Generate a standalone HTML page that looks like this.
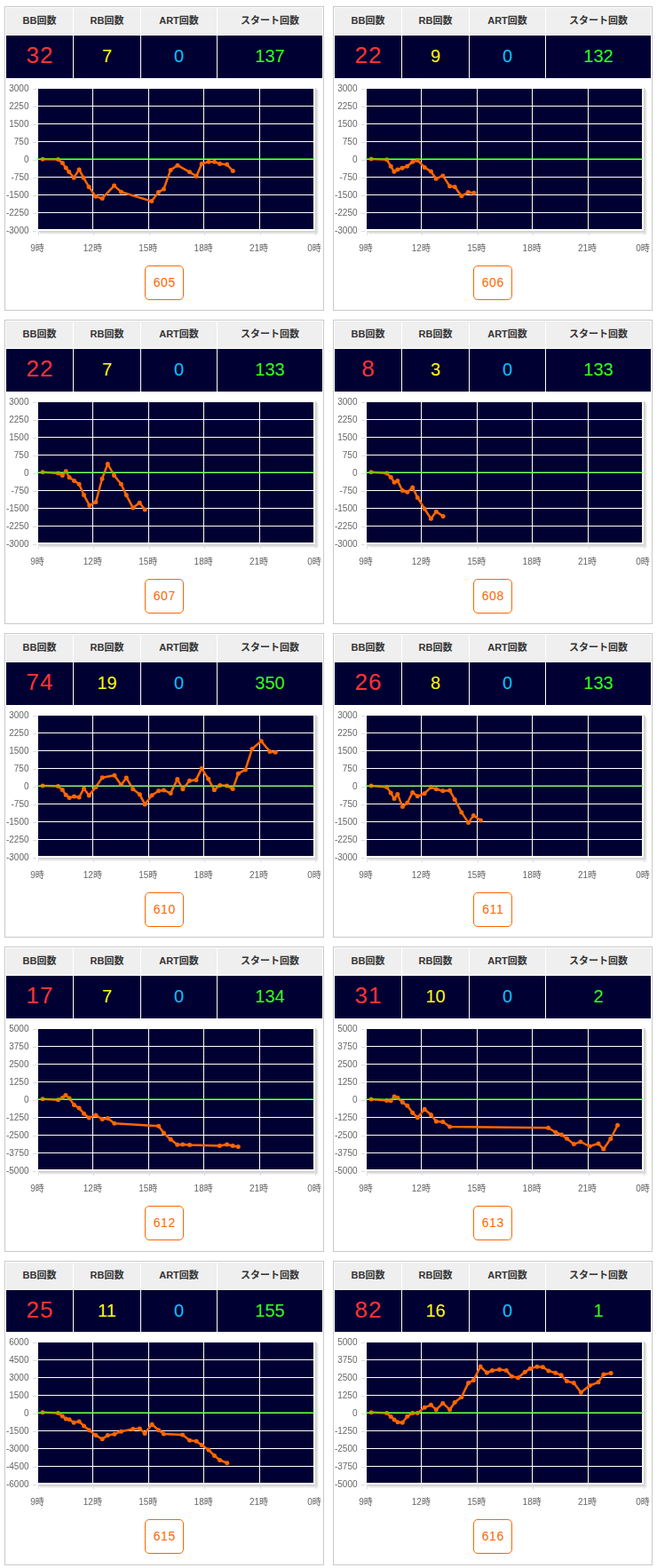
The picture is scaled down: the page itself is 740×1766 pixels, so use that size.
<!DOCTYPE html>
<html lang="ja"><head><meta charset="utf-8"><title>data</title>
<style>
html,body{margin:0;padding:0;background:#fff;}
body{width:740px;height:1766px;position:relative;overflow:hidden;font-family:"Liberation Sans","Noto Sans CJK JP",sans-serif;}
.card{position:absolute;width:360px;height:343px;box-sizing:border-box;border:1px solid #c9c9c9;background:#fff;}
.st{position:absolute;left:0;top:0;width:358px;border-collapse:separate;border-spacing:1px;table-layout:fixed;margin:0;}
.st th,.st td{padding:0;text-align:center;vertical-align:top;white-space:nowrap;overflow:hidden;}
.st th{height:30px;background:#efefef;color:#333;font-size:11px;font-weight:bold;line-height:29px;font-family:"Liberation Sans","Noto Sans CJK JP",sans-serif;}
.st td{height:48px;background:#000033;font-size:20px;line-height:46px;}
.st td.bb{font-size:26px;line-height:44px;color:#ff3333;letter-spacing:1px;padding-left:1px;}
.st td.rb{color:#ffff0a;}
.st td.art{color:#08c4ff;}
.st td.stt{color:#33ff14;}
.chart{position:absolute;left:0;top:0;width:358px;height:341px;will-change:transform;}
.chart text{font-family:"Liberation Sans","Noto Sans CJK JP",sans-serif;font-size:10px;fill:#666;}
.last .st td{height:47px;}
.last .chart{top:-1px;}
.last .btn{top:290px;}
.btn{position:absolute;left:157px;top:291px;width:44px;height:39px;box-sizing:border-box;border:1px solid #ff6600;border-radius:5px;color:#ff6600;font-size:14px;letter-spacing:.6px;text-indent:.6px;line-height:36px;text-align:center;text-decoration:none;background:#fff;}
</style></head><body>
<div class="card" style="left:5px;top:7px">
<table class="st"><colgroup><col style="width:75px"><col style="width:75px"><col style="width:85px"><col style="width:118px"></colgroup>
<tr><th>BB回数</th><th>RB回数</th><th>ART回数</th><th>スタート回数</th></tr>
<tr><td class="bb">32</td><td class="rb">7</td><td class="art">0</td><td class="stt">137</td></tr></table>
<svg class="chart" width="358" height="341" viewBox="0 0 358 341"><rect x="349" y="91" width="1" height="162" fill="#d0d0d0"/><rect x="37" y="252" width="313" height="1" fill="#d0d0d0"/><rect x="350" y="92" width="1" height="162" fill="#dadada"/><rect x="38" y="253" width="313" height="1" fill="#dadada"/><rect x="351" y="93" width="1" height="162" fill="#e6e6e6"/><rect x="39" y="254" width="313" height="1" fill="#e6e6e6"/><rect x="352" y="94" width="1" height="162" fill="#f4f4f4"/><rect x="40" y="255" width="313" height="1" fill="#f4f4f4"/><rect x="37" y="92" width="310" height="158" fill="#000033"/><rect x="37" y="111" width="310" height="1" fill="#fff"/><rect x="37" y="131" width="310" height="1" fill="#fff"/><rect x="37" y="151" width="310" height="1" fill="#fff"/><rect x="37" y="171" width="310" height="1" fill="#fff"/><rect x="37" y="191" width="310" height="1" fill="#fff"/><rect x="37" y="211" width="310" height="1" fill="#fff"/><rect x="37" y="231" width="310" height="1" fill="#fff"/><rect x="98" y="92" width="1" height="158" fill="#fff"/><rect x="161" y="92" width="1" height="158" fill="#fff"/><rect x="223" y="92" width="1" height="158" fill="#fff"/><rect x="286" y="92" width="1" height="158" fill="#fff"/><rect x="31" y="92" width="4" height="1" fill="#dcdcdc"/><rect x="31" y="112" width="4" height="1" fill="#dcdcdc"/><rect x="31" y="132" width="4" height="1" fill="#dcdcdc"/><rect x="31" y="152" width="4" height="1" fill="#dcdcdc"/><rect x="31" y="172" width="4" height="1" fill="#dcdcdc"/><rect x="31" y="192" width="4" height="1" fill="#dcdcdc"/><rect x="31" y="212" width="4" height="1" fill="#dcdcdc"/><rect x="31" y="232" width="4" height="1" fill="#dcdcdc"/><rect x="31" y="252" width="4" height="1" fill="#dcdcdc"/><rect x="37" y="252" width="1" height="5" fill="#dcdcdc"/><rect x="99" y="252" width="1" height="5" fill="#dcdcdc"/><rect x="162" y="252" width="1" height="5" fill="#dcdcdc"/><rect x="224" y="252" width="1" height="5" fill="#dcdcdc"/><rect x="287" y="252" width="1" height="5" fill="#dcdcdc"/><rect x="349" y="252" width="1" height="5" fill="#dcdcdc"/><text x="26.5" y="95.1" text-anchor="end">3000</text><text x="26.5" y="115.1" text-anchor="end">2250</text><text x="26.5" y="135.1" text-anchor="end">1500</text><text x="26.5" y="155.1" text-anchor="end">750</text><text x="26.5" y="175.1" text-anchor="end">0</text><text x="26.5" y="195.1" text-anchor="end">-750</text><text x="26.5" y="215.1" text-anchor="end">-1500</text><text x="26.5" y="235.1" text-anchor="end">-2250</text><text x="26.5" y="255.1" text-anchor="end">-3000</text><text x="28.2" y="275.2">9時</text><text x="87.8" y="275.2">12時</text><text x="150.2" y="275.2">15時</text><text x="212.6" y="275.2">18時</text><text x="275" y="275.2">21時</text><text x="340.2" y="275.2">0時</text><polyline fill="none" stroke="#ff6600" stroke-width="2.5" stroke-linejoin="round" stroke-linecap="round" points="42,171.3 59.5,171.6 64.3,175.4 68.2,181.1 71.7,185.4 77.2,192.2 83.1,182.9 88.1,192.2 94.1,202.4 101.7,213.2 109.2,215.4 122.6,201.1 130.6,208.2 164.8,218.6 172.4,208.4 178.4,205 186.2,183.4 194,178.2 207.6,185.8 215.2,190.5 221.2,176.5 229,174.3 235.5,174.3 241.6,176.5 249.6,177.3 256.3,184.5"/><g fill="#ff6600"><circle cx="42" cy="171.3" r="2.5"/><circle cx="59.5" cy="171.6" r="2.5"/><circle cx="64.3" cy="175.4" r="2.5"/><circle cx="68.2" cy="181.1" r="2.5"/><circle cx="71.7" cy="185.4" r="2.5"/><circle cx="77.2" cy="192.2" r="2.5"/><circle cx="83.1" cy="182.9" r="2.5"/><circle cx="88.1" cy="192.2" r="2.5"/><circle cx="94.1" cy="202.4" r="2.5"/><circle cx="101.7" cy="213.2" r="2.5"/><circle cx="109.2" cy="215.4" r="2.5"/><circle cx="122.6" cy="201.1" r="2.5"/><circle cx="130.6" cy="208.2" r="2.5"/><circle cx="164.8" cy="218.6" r="2.5"/><circle cx="172.4" cy="208.4" r="2.5"/><circle cx="178.4" cy="205" r="2.5"/><circle cx="186.2" cy="183.4" r="2.5"/><circle cx="194" cy="178.2" r="2.5"/><circle cx="207.6" cy="185.8" r="2.5"/><circle cx="215.2" cy="190.5" r="2.5"/><circle cx="221.2" cy="176.5" r="2.5"/><circle cx="229" cy="174.3" r="2.5"/><circle cx="235.5" cy="174.3" r="2.5"/><circle cx="241.6" cy="176.5" r="2.5"/><circle cx="249.6" cy="177.3" r="2.5"/><circle cx="256.3" cy="184.5" r="2.5"/></g><rect x="36" y="170" width="312" height="2" fill="#33ff00" opacity="0.55"/></svg>
<a class="btn">605</a>
</div>
<div class="card" style="left:375px;top:7px">
<table class="st"><colgroup><col style="width:75px"><col style="width:75px"><col style="width:85px"><col style="width:118px"></colgroup>
<tr><th>BB回数</th><th>RB回数</th><th>ART回数</th><th>スタート回数</th></tr>
<tr><td class="bb">22</td><td class="rb">9</td><td class="art">0</td><td class="stt">132</td></tr></table>
<svg class="chart" width="358" height="341" viewBox="0 0 358 341"><rect x="349" y="91" width="1" height="162" fill="#d0d0d0"/><rect x="37" y="252" width="313" height="1" fill="#d0d0d0"/><rect x="350" y="92" width="1" height="162" fill="#dadada"/><rect x="38" y="253" width="313" height="1" fill="#dadada"/><rect x="351" y="93" width="1" height="162" fill="#e6e6e6"/><rect x="39" y="254" width="313" height="1" fill="#e6e6e6"/><rect x="352" y="94" width="1" height="162" fill="#f4f4f4"/><rect x="40" y="255" width="313" height="1" fill="#f4f4f4"/><rect x="37" y="92" width="310" height="158" fill="#000033"/><rect x="37" y="111" width="310" height="1" fill="#fff"/><rect x="37" y="131" width="310" height="1" fill="#fff"/><rect x="37" y="151" width="310" height="1" fill="#fff"/><rect x="37" y="171" width="310" height="1" fill="#fff"/><rect x="37" y="191" width="310" height="1" fill="#fff"/><rect x="37" y="211" width="310" height="1" fill="#fff"/><rect x="37" y="231" width="310" height="1" fill="#fff"/><rect x="98" y="92" width="1" height="158" fill="#fff"/><rect x="161" y="92" width="1" height="158" fill="#fff"/><rect x="223" y="92" width="1" height="158" fill="#fff"/><rect x="286" y="92" width="1" height="158" fill="#fff"/><rect x="31" y="92" width="4" height="1" fill="#dcdcdc"/><rect x="31" y="112" width="4" height="1" fill="#dcdcdc"/><rect x="31" y="132" width="4" height="1" fill="#dcdcdc"/><rect x="31" y="152" width="4" height="1" fill="#dcdcdc"/><rect x="31" y="172" width="4" height="1" fill="#dcdcdc"/><rect x="31" y="192" width="4" height="1" fill="#dcdcdc"/><rect x="31" y="212" width="4" height="1" fill="#dcdcdc"/><rect x="31" y="232" width="4" height="1" fill="#dcdcdc"/><rect x="31" y="252" width="4" height="1" fill="#dcdcdc"/><rect x="37" y="252" width="1" height="5" fill="#dcdcdc"/><rect x="99" y="252" width="1" height="5" fill="#dcdcdc"/><rect x="162" y="252" width="1" height="5" fill="#dcdcdc"/><rect x="224" y="252" width="1" height="5" fill="#dcdcdc"/><rect x="287" y="252" width="1" height="5" fill="#dcdcdc"/><rect x="349" y="252" width="1" height="5" fill="#dcdcdc"/><text x="26.5" y="95.1" text-anchor="end">3000</text><text x="26.5" y="115.1" text-anchor="end">2250</text><text x="26.5" y="135.1" text-anchor="end">1500</text><text x="26.5" y="155.1" text-anchor="end">750</text><text x="26.5" y="175.1" text-anchor="end">0</text><text x="26.5" y="195.1" text-anchor="end">-750</text><text x="26.5" y="215.1" text-anchor="end">-1500</text><text x="26.5" y="235.1" text-anchor="end">-2250</text><text x="26.5" y="255.1" text-anchor="end">-3000</text><text x="28.2" y="275.2">9時</text><text x="87.8" y="275.2">12時</text><text x="150.2" y="275.2">15時</text><text x="212.6" y="275.2">18時</text><text x="275" y="275.2">21時</text><text x="340.2" y="275.2">0時</text><polyline fill="none" stroke="#ff6600" stroke-width="2.5" stroke-linejoin="round" stroke-linecap="round" points="42,171.1 59.7,171.7 64.2,179.3 67.9,185.3 71.8,182.9 77,181.2 82.6,179.3 88.7,174.3 94.3,172.6 102.1,180.4 109.4,185.1 115.1,193.3 122.8,189.9 130.6,201.8 136.2,202.4 143.8,212.8 151.4,208.5 157.9,209.3"/><g fill="#ff6600"><circle cx="42" cy="171.1" r="2.5"/><circle cx="59.7" cy="171.7" r="2.5"/><circle cx="64.2" cy="179.3" r="2.5"/><circle cx="67.9" cy="185.3" r="2.5"/><circle cx="71.8" cy="182.9" r="2.5"/><circle cx="77" cy="181.2" r="2.5"/><circle cx="82.6" cy="179.3" r="2.5"/><circle cx="88.7" cy="174.3" r="2.5"/><circle cx="94.3" cy="172.6" r="2.5"/><circle cx="102.1" cy="180.4" r="2.5"/><circle cx="109.4" cy="185.1" r="2.5"/><circle cx="115.1" cy="193.3" r="2.5"/><circle cx="122.8" cy="189.9" r="2.5"/><circle cx="130.6" cy="201.8" r="2.5"/><circle cx="136.2" cy="202.4" r="2.5"/><circle cx="143.8" cy="212.8" r="2.5"/><circle cx="151.4" cy="208.5" r="2.5"/><circle cx="157.9" cy="209.3" r="2.5"/></g><rect x="36" y="170" width="312" height="2" fill="#33ff00" opacity="0.55"/></svg>
<a class="btn">606</a>
</div>
<div class="card" style="left:5px;top:360px">
<table class="st"><colgroup><col style="width:75px"><col style="width:75px"><col style="width:85px"><col style="width:118px"></colgroup>
<tr><th>BB回数</th><th>RB回数</th><th>ART回数</th><th>スタート回数</th></tr>
<tr><td class="bb">22</td><td class="rb">7</td><td class="art">0</td><td class="stt">133</td></tr></table>
<svg class="chart" width="358" height="341" viewBox="0 0 358 341"><rect x="349" y="91" width="1" height="162" fill="#d0d0d0"/><rect x="37" y="252" width="313" height="1" fill="#d0d0d0"/><rect x="350" y="92" width="1" height="162" fill="#dadada"/><rect x="38" y="253" width="313" height="1" fill="#dadada"/><rect x="351" y="93" width="1" height="162" fill="#e6e6e6"/><rect x="39" y="254" width="313" height="1" fill="#e6e6e6"/><rect x="352" y="94" width="1" height="162" fill="#f4f4f4"/><rect x="40" y="255" width="313" height="1" fill="#f4f4f4"/><rect x="37" y="92" width="310" height="158" fill="#000033"/><rect x="37" y="111" width="310" height="1" fill="#fff"/><rect x="37" y="131" width="310" height="1" fill="#fff"/><rect x="37" y="151" width="310" height="1" fill="#fff"/><rect x="37" y="171" width="310" height="1" fill="#fff"/><rect x="37" y="191" width="310" height="1" fill="#fff"/><rect x="37" y="211" width="310" height="1" fill="#fff"/><rect x="37" y="231" width="310" height="1" fill="#fff"/><rect x="98" y="92" width="1" height="158" fill="#fff"/><rect x="161" y="92" width="1" height="158" fill="#fff"/><rect x="223" y="92" width="1" height="158" fill="#fff"/><rect x="286" y="92" width="1" height="158" fill="#fff"/><rect x="31" y="92" width="4" height="1" fill="#dcdcdc"/><rect x="31" y="112" width="4" height="1" fill="#dcdcdc"/><rect x="31" y="132" width="4" height="1" fill="#dcdcdc"/><rect x="31" y="152" width="4" height="1" fill="#dcdcdc"/><rect x="31" y="172" width="4" height="1" fill="#dcdcdc"/><rect x="31" y="192" width="4" height="1" fill="#dcdcdc"/><rect x="31" y="212" width="4" height="1" fill="#dcdcdc"/><rect x="31" y="232" width="4" height="1" fill="#dcdcdc"/><rect x="31" y="252" width="4" height="1" fill="#dcdcdc"/><rect x="37" y="252" width="1" height="5" fill="#dcdcdc"/><rect x="99" y="252" width="1" height="5" fill="#dcdcdc"/><rect x="162" y="252" width="1" height="5" fill="#dcdcdc"/><rect x="224" y="252" width="1" height="5" fill="#dcdcdc"/><rect x="287" y="252" width="1" height="5" fill="#dcdcdc"/><rect x="349" y="252" width="1" height="5" fill="#dcdcdc"/><text x="26.5" y="95.1" text-anchor="end">3000</text><text x="26.5" y="115.1" text-anchor="end">2250</text><text x="26.5" y="135.1" text-anchor="end">1500</text><text x="26.5" y="155.1" text-anchor="end">750</text><text x="26.5" y="175.1" text-anchor="end">0</text><text x="26.5" y="195.1" text-anchor="end">-750</text><text x="26.5" y="215.1" text-anchor="end">-1500</text><text x="26.5" y="235.1" text-anchor="end">-2250</text><text x="26.5" y="255.1" text-anchor="end">-3000</text><text x="28.2" y="275.2">9時</text><text x="87.8" y="275.2">12時</text><text x="150.2" y="275.2">15時</text><text x="212.6" y="275.2">18時</text><text x="275" y="275.2">21時</text><text x="340.2" y="275.2">0時</text><polyline fill="none" stroke="#ff6600" stroke-width="2.5" stroke-linejoin="round" stroke-linecap="round" points="42,170.8 59.5,171.9 64.3,174.5 68.2,169.8 72.1,176.7 77.5,180.4 83.1,184.2 88.5,196.6 94.8,208.2 101.9,204.6 109,178.2 115.3,161.5 122.6,174.5 130.4,184.2 136.3,196.6 143.8,211.1 151.2,205.2 157.2,213"/><g fill="#ff6600"><circle cx="42" cy="170.8" r="2.5"/><circle cx="59.5" cy="171.9" r="2.5"/><circle cx="64.3" cy="174.5" r="2.5"/><circle cx="68.2" cy="169.8" r="2.5"/><circle cx="72.1" cy="176.7" r="2.5"/><circle cx="77.5" cy="180.4" r="2.5"/><circle cx="83.1" cy="184.2" r="2.5"/><circle cx="88.5" cy="196.6" r="2.5"/><circle cx="94.8" cy="208.2" r="2.5"/><circle cx="101.9" cy="204.6" r="2.5"/><circle cx="109" cy="178.2" r="2.5"/><circle cx="115.3" cy="161.5" r="2.5"/><circle cx="122.6" cy="174.5" r="2.5"/><circle cx="130.4" cy="184.2" r="2.5"/><circle cx="136.3" cy="196.6" r="2.5"/><circle cx="143.8" cy="211.1" r="2.5"/><circle cx="151.2" cy="205.2" r="2.5"/><circle cx="157.2" cy="213" r="2.5"/></g><rect x="36" y="170" width="312" height="2" fill="#33ff00" opacity="0.55"/></svg>
<a class="btn">607</a>
</div>
<div class="card" style="left:375px;top:360px">
<table class="st"><colgroup><col style="width:75px"><col style="width:75px"><col style="width:85px"><col style="width:118px"></colgroup>
<tr><th>BB回数</th><th>RB回数</th><th>ART回数</th><th>スタート回数</th></tr>
<tr><td class="bb">8</td><td class="rb">3</td><td class="art">0</td><td class="stt">133</td></tr></table>
<svg class="chart" width="358" height="341" viewBox="0 0 358 341"><rect x="349" y="91" width="1" height="162" fill="#d0d0d0"/><rect x="37" y="252" width="313" height="1" fill="#d0d0d0"/><rect x="350" y="92" width="1" height="162" fill="#dadada"/><rect x="38" y="253" width="313" height="1" fill="#dadada"/><rect x="351" y="93" width="1" height="162" fill="#e6e6e6"/><rect x="39" y="254" width="313" height="1" fill="#e6e6e6"/><rect x="352" y="94" width="1" height="162" fill="#f4f4f4"/><rect x="40" y="255" width="313" height="1" fill="#f4f4f4"/><rect x="37" y="92" width="310" height="158" fill="#000033"/><rect x="37" y="111" width="310" height="1" fill="#fff"/><rect x="37" y="131" width="310" height="1" fill="#fff"/><rect x="37" y="151" width="310" height="1" fill="#fff"/><rect x="37" y="171" width="310" height="1" fill="#fff"/><rect x="37" y="191" width="310" height="1" fill="#fff"/><rect x="37" y="211" width="310" height="1" fill="#fff"/><rect x="37" y="231" width="310" height="1" fill="#fff"/><rect x="98" y="92" width="1" height="158" fill="#fff"/><rect x="161" y="92" width="1" height="158" fill="#fff"/><rect x="223" y="92" width="1" height="158" fill="#fff"/><rect x="286" y="92" width="1" height="158" fill="#fff"/><rect x="31" y="92" width="4" height="1" fill="#dcdcdc"/><rect x="31" y="112" width="4" height="1" fill="#dcdcdc"/><rect x="31" y="132" width="4" height="1" fill="#dcdcdc"/><rect x="31" y="152" width="4" height="1" fill="#dcdcdc"/><rect x="31" y="172" width="4" height="1" fill="#dcdcdc"/><rect x="31" y="192" width="4" height="1" fill="#dcdcdc"/><rect x="31" y="212" width="4" height="1" fill="#dcdcdc"/><rect x="31" y="232" width="4" height="1" fill="#dcdcdc"/><rect x="31" y="252" width="4" height="1" fill="#dcdcdc"/><rect x="37" y="252" width="1" height="5" fill="#dcdcdc"/><rect x="99" y="252" width="1" height="5" fill="#dcdcdc"/><rect x="162" y="252" width="1" height="5" fill="#dcdcdc"/><rect x="224" y="252" width="1" height="5" fill="#dcdcdc"/><rect x="287" y="252" width="1" height="5" fill="#dcdcdc"/><rect x="349" y="252" width="1" height="5" fill="#dcdcdc"/><text x="26.5" y="95.1" text-anchor="end">3000</text><text x="26.5" y="115.1" text-anchor="end">2250</text><text x="26.5" y="135.1" text-anchor="end">1500</text><text x="26.5" y="155.1" text-anchor="end">750</text><text x="26.5" y="175.1" text-anchor="end">0</text><text x="26.5" y="195.1" text-anchor="end">-750</text><text x="26.5" y="215.1" text-anchor="end">-1500</text><text x="26.5" y="235.1" text-anchor="end">-2250</text><text x="26.5" y="255.1" text-anchor="end">-3000</text><text x="28.2" y="275.2">9時</text><text x="87.8" y="275.2">12時</text><text x="150.2" y="275.2">15時</text><text x="212.6" y="275.2">18時</text><text x="275" y="275.2">21時</text><text x="340.2" y="275.2">0時</text><polyline fill="none" stroke="#ff6600" stroke-width="2.5" stroke-linejoin="round" stroke-linecap="round" points="42,170.8 59.7,172.1 64.2,176.5 68.1,182.3 71.8,180.6 77.4,191.6 82.8,193.3 88.7,187.9 94.3,199.4 102.1,211.9 109.4,223.2 115.3,215.2 123.1,220.4"/><g fill="#ff6600"><circle cx="42" cy="170.8" r="2.5"/><circle cx="59.7" cy="172.1" r="2.5"/><circle cx="64.2" cy="176.5" r="2.5"/><circle cx="68.1" cy="182.3" r="2.5"/><circle cx="71.8" cy="180.6" r="2.5"/><circle cx="77.4" cy="191.6" r="2.5"/><circle cx="82.8" cy="193.3" r="2.5"/><circle cx="88.7" cy="187.9" r="2.5"/><circle cx="94.3" cy="199.4" r="2.5"/><circle cx="102.1" cy="211.9" r="2.5"/><circle cx="109.4" cy="223.2" r="2.5"/><circle cx="115.3" cy="215.2" r="2.5"/><circle cx="123.1" cy="220.4" r="2.5"/></g><rect x="36" y="170" width="312" height="2" fill="#33ff00" opacity="0.55"/></svg>
<a class="btn">608</a>
</div>
<div class="card" style="left:5px;top:713px">
<table class="st"><colgroup><col style="width:75px"><col style="width:75px"><col style="width:85px"><col style="width:118px"></colgroup>
<tr><th>BB回数</th><th>RB回数</th><th>ART回数</th><th>スタート回数</th></tr>
<tr><td class="bb">74</td><td class="rb">19</td><td class="art">0</td><td class="stt">350</td></tr></table>
<svg class="chart" width="358" height="341" viewBox="0 0 358 341"><rect x="349" y="91" width="1" height="162" fill="#d0d0d0"/><rect x="37" y="252" width="313" height="1" fill="#d0d0d0"/><rect x="350" y="92" width="1" height="162" fill="#dadada"/><rect x="38" y="253" width="313" height="1" fill="#dadada"/><rect x="351" y="93" width="1" height="162" fill="#e6e6e6"/><rect x="39" y="254" width="313" height="1" fill="#e6e6e6"/><rect x="352" y="94" width="1" height="162" fill="#f4f4f4"/><rect x="40" y="255" width="313" height="1" fill="#f4f4f4"/><rect x="37" y="92" width="310" height="158" fill="#000033"/><rect x="37" y="111" width="310" height="1" fill="#fff"/><rect x="37" y="131" width="310" height="1" fill="#fff"/><rect x="37" y="151" width="310" height="1" fill="#fff"/><rect x="37" y="171" width="310" height="1" fill="#fff"/><rect x="37" y="191" width="310" height="1" fill="#fff"/><rect x="37" y="211" width="310" height="1" fill="#fff"/><rect x="37" y="231" width="310" height="1" fill="#fff"/><rect x="98" y="92" width="1" height="158" fill="#fff"/><rect x="161" y="92" width="1" height="158" fill="#fff"/><rect x="223" y="92" width="1" height="158" fill="#fff"/><rect x="286" y="92" width="1" height="158" fill="#fff"/><rect x="31" y="92" width="4" height="1" fill="#dcdcdc"/><rect x="31" y="112" width="4" height="1" fill="#dcdcdc"/><rect x="31" y="132" width="4" height="1" fill="#dcdcdc"/><rect x="31" y="152" width="4" height="1" fill="#dcdcdc"/><rect x="31" y="172" width="4" height="1" fill="#dcdcdc"/><rect x="31" y="192" width="4" height="1" fill="#dcdcdc"/><rect x="31" y="212" width="4" height="1" fill="#dcdcdc"/><rect x="31" y="232" width="4" height="1" fill="#dcdcdc"/><rect x="31" y="252" width="4" height="1" fill="#dcdcdc"/><rect x="37" y="252" width="1" height="5" fill="#dcdcdc"/><rect x="99" y="252" width="1" height="5" fill="#dcdcdc"/><rect x="162" y="252" width="1" height="5" fill="#dcdcdc"/><rect x="224" y="252" width="1" height="5" fill="#dcdcdc"/><rect x="287" y="252" width="1" height="5" fill="#dcdcdc"/><rect x="349" y="252" width="1" height="5" fill="#dcdcdc"/><text x="26.5" y="95.1" text-anchor="end">3000</text><text x="26.5" y="115.1" text-anchor="end">2250</text><text x="26.5" y="135.1" text-anchor="end">1500</text><text x="26.5" y="155.1" text-anchor="end">750</text><text x="26.5" y="175.1" text-anchor="end">0</text><text x="26.5" y="195.1" text-anchor="end">-750</text><text x="26.5" y="215.1" text-anchor="end">-1500</text><text x="26.5" y="235.1" text-anchor="end">-2250</text><text x="26.5" y="255.1" text-anchor="end">-3000</text><text x="28.2" y="275.2">9時</text><text x="87.8" y="275.2">12時</text><text x="150.2" y="275.2">15時</text><text x="212.6" y="275.2">18時</text><text x="275" y="275.2">21時</text><text x="340.2" y="275.2">0時</text><polyline fill="none" stroke="#ff6600" stroke-width="2.5" stroke-linejoin="round" stroke-linecap="round" points="42,170.9 59.5,171.5 64.3,175.6 68.2,181.3 72.1,184.5 77.5,183 83.1,184.1 88.5,173.9 94.3,181.9 101.9,172.4 109.2,161.8 122.9,159.2 130.4,170 136.3,162 143.8,174.8 151.4,180.8 157.2,191.9 165,181.7 172.6,176.7 178.4,175.9 186.2,179.4 193.8,163.6 199.9,174.8 207.5,165.2 214.9,164.4 221.1,151.4 228.7,163.3 235.4,175.8 241.7,170.4 249.5,171.1 256.2,174.5 262.4,157.2 270.4,152.9 278,129.4 288.2,120.7 297.9,132.4 304.2,133.2"/><g fill="#ff6600"><circle cx="42" cy="170.9" r="2.5"/><circle cx="59.5" cy="171.5" r="2.5"/><circle cx="64.3" cy="175.6" r="2.5"/><circle cx="68.2" cy="181.3" r="2.5"/><circle cx="72.1" cy="184.5" r="2.5"/><circle cx="77.5" cy="183" r="2.5"/><circle cx="83.1" cy="184.1" r="2.5"/><circle cx="88.5" cy="173.9" r="2.5"/><circle cx="94.3" cy="181.9" r="2.5"/><circle cx="101.9" cy="172.4" r="2.5"/><circle cx="109.2" cy="161.8" r="2.5"/><circle cx="122.9" cy="159.2" r="2.5"/><circle cx="130.4" cy="170" r="2.5"/><circle cx="136.3" cy="162" r="2.5"/><circle cx="143.8" cy="174.8" r="2.5"/><circle cx="151.4" cy="180.8" r="2.5"/><circle cx="157.2" cy="191.9" r="2.5"/><circle cx="165" cy="181.7" r="2.5"/><circle cx="172.6" cy="176.7" r="2.5"/><circle cx="178.4" cy="175.9" r="2.5"/><circle cx="186.2" cy="179.4" r="2.5"/><circle cx="193.8" cy="163.6" r="2.5"/><circle cx="199.9" cy="174.8" r="2.5"/><circle cx="207.5" cy="165.2" r="2.5"/><circle cx="214.9" cy="164.4" r="2.5"/><circle cx="221.1" cy="151.4" r="2.5"/><circle cx="228.7" cy="163.3" r="2.5"/><circle cx="235.4" cy="175.8" r="2.5"/><circle cx="241.7" cy="170.4" r="2.5"/><circle cx="249.5" cy="171.1" r="2.5"/><circle cx="256.2" cy="174.5" r="2.5"/><circle cx="262.4" cy="157.2" r="2.5"/><circle cx="270.4" cy="152.9" r="2.5"/><circle cx="278" cy="129.4" r="2.5"/><circle cx="288.2" cy="120.7" r="2.5"/><circle cx="297.9" cy="132.4" r="2.5"/><circle cx="304.2" cy="133.2" r="2.5"/></g><rect x="36" y="170" width="312" height="2" fill="#33ff00" opacity="0.55"/></svg>
<a class="btn">610</a>
</div>
<div class="card" style="left:375px;top:713px">
<table class="st"><colgroup><col style="width:75px"><col style="width:75px"><col style="width:85px"><col style="width:118px"></colgroup>
<tr><th>BB回数</th><th>RB回数</th><th>ART回数</th><th>スタート回数</th></tr>
<tr><td class="bb">26</td><td class="rb">8</td><td class="art">0</td><td class="stt">133</td></tr></table>
<svg class="chart" width="358" height="341" viewBox="0 0 358 341"><rect x="349" y="91" width="1" height="162" fill="#d0d0d0"/><rect x="37" y="252" width="313" height="1" fill="#d0d0d0"/><rect x="350" y="92" width="1" height="162" fill="#dadada"/><rect x="38" y="253" width="313" height="1" fill="#dadada"/><rect x="351" y="93" width="1" height="162" fill="#e6e6e6"/><rect x="39" y="254" width="313" height="1" fill="#e6e6e6"/><rect x="352" y="94" width="1" height="162" fill="#f4f4f4"/><rect x="40" y="255" width="313" height="1" fill="#f4f4f4"/><rect x="37" y="92" width="310" height="158" fill="#000033"/><rect x="37" y="111" width="310" height="1" fill="#fff"/><rect x="37" y="131" width="310" height="1" fill="#fff"/><rect x="37" y="151" width="310" height="1" fill="#fff"/><rect x="37" y="171" width="310" height="1" fill="#fff"/><rect x="37" y="191" width="310" height="1" fill="#fff"/><rect x="37" y="211" width="310" height="1" fill="#fff"/><rect x="37" y="231" width="310" height="1" fill="#fff"/><rect x="98" y="92" width="1" height="158" fill="#fff"/><rect x="161" y="92" width="1" height="158" fill="#fff"/><rect x="223" y="92" width="1" height="158" fill="#fff"/><rect x="286" y="92" width="1" height="158" fill="#fff"/><rect x="31" y="92" width="4" height="1" fill="#dcdcdc"/><rect x="31" y="112" width="4" height="1" fill="#dcdcdc"/><rect x="31" y="132" width="4" height="1" fill="#dcdcdc"/><rect x="31" y="152" width="4" height="1" fill="#dcdcdc"/><rect x="31" y="172" width="4" height="1" fill="#dcdcdc"/><rect x="31" y="192" width="4" height="1" fill="#dcdcdc"/><rect x="31" y="212" width="4" height="1" fill="#dcdcdc"/><rect x="31" y="232" width="4" height="1" fill="#dcdcdc"/><rect x="31" y="252" width="4" height="1" fill="#dcdcdc"/><rect x="37" y="252" width="1" height="5" fill="#dcdcdc"/><rect x="99" y="252" width="1" height="5" fill="#dcdcdc"/><rect x="162" y="252" width="1" height="5" fill="#dcdcdc"/><rect x="224" y="252" width="1" height="5" fill="#dcdcdc"/><rect x="287" y="252" width="1" height="5" fill="#dcdcdc"/><rect x="349" y="252" width="1" height="5" fill="#dcdcdc"/><text x="26.5" y="95.1" text-anchor="end">3000</text><text x="26.5" y="115.1" text-anchor="end">2250</text><text x="26.5" y="135.1" text-anchor="end">1500</text><text x="26.5" y="155.1" text-anchor="end">750</text><text x="26.5" y="175.1" text-anchor="end">0</text><text x="26.5" y="195.1" text-anchor="end">-750</text><text x="26.5" y="215.1" text-anchor="end">-1500</text><text x="26.5" y="235.1" text-anchor="end">-2250</text><text x="26.5" y="255.1" text-anchor="end">-3000</text><text x="28.2" y="275.2">9時</text><text x="87.8" y="275.2">12時</text><text x="150.2" y="275.2">15時</text><text x="212.6" y="275.2">18時</text><text x="275" y="275.2">21時</text><text x="340.2" y="275.2">0時</text><polyline fill="none" stroke="#ff6600" stroke-width="2.5" stroke-linejoin="round" stroke-linecap="round" points="42,170.9 59.7,172.4 64.2,179.1 68.1,185.6 71.8,180.6 77.4,194.6 82.8,190.3 88.7,178.4 94.3,182.8 102.1,179.7 109.4,172.6 115.3,174.8 122.8,176.7 130.6,176.3 136.2,186.4 143.8,200.9 151.6,212.6 157.4,204.4 165.4,210"/><g fill="#ff6600"><circle cx="42" cy="170.9" r="2.5"/><circle cx="59.7" cy="172.4" r="2.5"/><circle cx="64.2" cy="179.1" r="2.5"/><circle cx="68.1" cy="185.6" r="2.5"/><circle cx="71.8" cy="180.6" r="2.5"/><circle cx="77.4" cy="194.6" r="2.5"/><circle cx="82.8" cy="190.3" r="2.5"/><circle cx="88.7" cy="178.4" r="2.5"/><circle cx="94.3" cy="182.8" r="2.5"/><circle cx="102.1" cy="179.7" r="2.5"/><circle cx="109.4" cy="172.6" r="2.5"/><circle cx="115.3" cy="174.8" r="2.5"/><circle cx="122.8" cy="176.7" r="2.5"/><circle cx="130.6" cy="176.3" r="2.5"/><circle cx="136.2" cy="186.4" r="2.5"/><circle cx="143.8" cy="200.9" r="2.5"/><circle cx="151.6" cy="212.6" r="2.5"/><circle cx="157.4" cy="204.4" r="2.5"/><circle cx="165.4" cy="210" r="2.5"/></g><rect x="36" y="170" width="312" height="2" fill="#33ff00" opacity="0.55"/></svg>
<a class="btn">611</a>
</div>
<div class="card" style="left:5px;top:1066px;height:344px">
<table class="st"><colgroup><col style="width:75px"><col style="width:75px"><col style="width:85px"><col style="width:118px"></colgroup>
<tr><th>BB回数</th><th>RB回数</th><th>ART回数</th><th>スタート回数</th></tr>
<tr><td class="bb">17</td><td class="rb">7</td><td class="art">0</td><td class="stt">134</td></tr></table>
<svg class="chart" width="358" height="341" viewBox="0 0 358 341"><rect x="349" y="91" width="1" height="162" fill="#d0d0d0"/><rect x="37" y="252" width="313" height="1" fill="#d0d0d0"/><rect x="350" y="92" width="1" height="162" fill="#dadada"/><rect x="38" y="253" width="313" height="1" fill="#dadada"/><rect x="351" y="93" width="1" height="162" fill="#e6e6e6"/><rect x="39" y="254" width="313" height="1" fill="#e6e6e6"/><rect x="352" y="94" width="1" height="162" fill="#f4f4f4"/><rect x="40" y="255" width="313" height="1" fill="#f4f4f4"/><rect x="37" y="92" width="310" height="158" fill="#000033"/><rect x="37" y="111" width="310" height="1" fill="#fff"/><rect x="37" y="131" width="310" height="1" fill="#fff"/><rect x="37" y="151" width="310" height="1" fill="#fff"/><rect x="37" y="171" width="310" height="1" fill="#fff"/><rect x="37" y="191" width="310" height="1" fill="#fff"/><rect x="37" y="211" width="310" height="1" fill="#fff"/><rect x="37" y="231" width="310" height="1" fill="#fff"/><rect x="98" y="92" width="1" height="158" fill="#fff"/><rect x="161" y="92" width="1" height="158" fill="#fff"/><rect x="223" y="92" width="1" height="158" fill="#fff"/><rect x="286" y="92" width="1" height="158" fill="#fff"/><rect x="31" y="92" width="4" height="1" fill="#dcdcdc"/><rect x="31" y="112" width="4" height="1" fill="#dcdcdc"/><rect x="31" y="132" width="4" height="1" fill="#dcdcdc"/><rect x="31" y="152" width="4" height="1" fill="#dcdcdc"/><rect x="31" y="172" width="4" height="1" fill="#dcdcdc"/><rect x="31" y="192" width="4" height="1" fill="#dcdcdc"/><rect x="31" y="212" width="4" height="1" fill="#dcdcdc"/><rect x="31" y="232" width="4" height="1" fill="#dcdcdc"/><rect x="31" y="252" width="4" height="1" fill="#dcdcdc"/><rect x="37" y="252" width="1" height="5" fill="#dcdcdc"/><rect x="99" y="252" width="1" height="5" fill="#dcdcdc"/><rect x="162" y="252" width="1" height="5" fill="#dcdcdc"/><rect x="224" y="252" width="1" height="5" fill="#dcdcdc"/><rect x="287" y="252" width="1" height="5" fill="#dcdcdc"/><rect x="349" y="252" width="1" height="5" fill="#dcdcdc"/><text x="26.5" y="95.1" text-anchor="end">5000</text><text x="26.5" y="115.1" text-anchor="end">3750</text><text x="26.5" y="135.1" text-anchor="end">2500</text><text x="26.5" y="155.1" text-anchor="end">1250</text><text x="26.5" y="175.1" text-anchor="end">0</text><text x="26.5" y="195.1" text-anchor="end">-1250</text><text x="26.5" y="215.1" text-anchor="end">-2500</text><text x="26.5" y="235.1" text-anchor="end">-3750</text><text x="26.5" y="255.1" text-anchor="end">-5000</text><text x="28.2" y="275.2">9時</text><text x="87.8" y="275.2">12時</text><text x="150.2" y="275.2">15時</text><text x="212.6" y="275.2">18時</text><text x="275" y="275.2">21時</text><text x="340.2" y="275.2">0時</text><polyline fill="none" stroke="#ff6600" stroke-width="2.5" stroke-linejoin="round" stroke-linecap="round" points="42,170.7 59.5,171.8 64.3,169.4 67.9,166.4 72.1,169.9 77.5,177.4 83.1,181.1 88.5,187.2 94.3,191.9 101.9,189.1 109.2,193.4 115.3,192.6 122.9,198.2 172.6,201.3 178.4,209.1 186.2,216.3 193.8,222.2 199.8,222 207.6,222.5 241.4,223.5 249.6,222 256.1,223.5 262.3,224.6"/><g fill="#ff6600"><circle cx="42" cy="170.7" r="2.5"/><circle cx="59.5" cy="171.8" r="2.5"/><circle cx="64.3" cy="169.4" r="2.5"/><circle cx="67.9" cy="166.4" r="2.5"/><circle cx="72.1" cy="169.9" r="2.5"/><circle cx="77.5" cy="177.4" r="2.5"/><circle cx="83.1" cy="181.1" r="2.5"/><circle cx="88.5" cy="187.2" r="2.5"/><circle cx="94.3" cy="191.9" r="2.5"/><circle cx="101.9" cy="189.1" r="2.5"/><circle cx="109.2" cy="193.4" r="2.5"/><circle cx="115.3" cy="192.6" r="2.5"/><circle cx="122.9" cy="198.2" r="2.5"/><circle cx="172.6" cy="201.3" r="2.5"/><circle cx="178.4" cy="209.1" r="2.5"/><circle cx="186.2" cy="216.3" r="2.5"/><circle cx="193.8" cy="222.2" r="2.5"/><circle cx="199.8" cy="222" r="2.5"/><circle cx="207.6" cy="222.5" r="2.5"/><circle cx="241.4" cy="223.5" r="2.5"/><circle cx="249.6" cy="222" r="2.5"/><circle cx="256.1" cy="223.5" r="2.5"/><circle cx="262.3" cy="224.6" r="2.5"/></g><rect x="36" y="170" width="312" height="2" fill="#33ff00" opacity="0.55"/></svg>
<a class="btn">612</a>
</div>
<div class="card" style="left:375px;top:1066px;height:344px">
<table class="st"><colgroup><col style="width:75px"><col style="width:75px"><col style="width:85px"><col style="width:118px"></colgroup>
<tr><th>BB回数</th><th>RB回数</th><th>ART回数</th><th>スタート回数</th></tr>
<tr><td class="bb">31</td><td class="rb">10</td><td class="art">0</td><td class="stt">2</td></tr></table>
<svg class="chart" width="358" height="341" viewBox="0 0 358 341"><rect x="349" y="91" width="1" height="162" fill="#d0d0d0"/><rect x="37" y="252" width="313" height="1" fill="#d0d0d0"/><rect x="350" y="92" width="1" height="162" fill="#dadada"/><rect x="38" y="253" width="313" height="1" fill="#dadada"/><rect x="351" y="93" width="1" height="162" fill="#e6e6e6"/><rect x="39" y="254" width="313" height="1" fill="#e6e6e6"/><rect x="352" y="94" width="1" height="162" fill="#f4f4f4"/><rect x="40" y="255" width="313" height="1" fill="#f4f4f4"/><rect x="37" y="92" width="310" height="158" fill="#000033"/><rect x="37" y="111" width="310" height="1" fill="#fff"/><rect x="37" y="131" width="310" height="1" fill="#fff"/><rect x="37" y="151" width="310" height="1" fill="#fff"/><rect x="37" y="171" width="310" height="1" fill="#fff"/><rect x="37" y="191" width="310" height="1" fill="#fff"/><rect x="37" y="211" width="310" height="1" fill="#fff"/><rect x="37" y="231" width="310" height="1" fill="#fff"/><rect x="98" y="92" width="1" height="158" fill="#fff"/><rect x="161" y="92" width="1" height="158" fill="#fff"/><rect x="223" y="92" width="1" height="158" fill="#fff"/><rect x="286" y="92" width="1" height="158" fill="#fff"/><rect x="31" y="92" width="4" height="1" fill="#dcdcdc"/><rect x="31" y="112" width="4" height="1" fill="#dcdcdc"/><rect x="31" y="132" width="4" height="1" fill="#dcdcdc"/><rect x="31" y="152" width="4" height="1" fill="#dcdcdc"/><rect x="31" y="172" width="4" height="1" fill="#dcdcdc"/><rect x="31" y="192" width="4" height="1" fill="#dcdcdc"/><rect x="31" y="212" width="4" height="1" fill="#dcdcdc"/><rect x="31" y="232" width="4" height="1" fill="#dcdcdc"/><rect x="31" y="252" width="4" height="1" fill="#dcdcdc"/><rect x="37" y="252" width="1" height="5" fill="#dcdcdc"/><rect x="99" y="252" width="1" height="5" fill="#dcdcdc"/><rect x="162" y="252" width="1" height="5" fill="#dcdcdc"/><rect x="224" y="252" width="1" height="5" fill="#dcdcdc"/><rect x="287" y="252" width="1" height="5" fill="#dcdcdc"/><rect x="349" y="252" width="1" height="5" fill="#dcdcdc"/><text x="26.5" y="95.1" text-anchor="end">5000</text><text x="26.5" y="115.1" text-anchor="end">3750</text><text x="26.5" y="135.1" text-anchor="end">2500</text><text x="26.5" y="155.1" text-anchor="end">1250</text><text x="26.5" y="175.1" text-anchor="end">0</text><text x="26.5" y="195.1" text-anchor="end">-1250</text><text x="26.5" y="215.1" text-anchor="end">-2500</text><text x="26.5" y="235.1" text-anchor="end">-3750</text><text x="26.5" y="255.1" text-anchor="end">-5000</text><text x="28.2" y="275.2">9時</text><text x="87.8" y="275.2">12時</text><text x="150.2" y="275.2">15時</text><text x="212.6" y="275.2">18時</text><text x="275" y="275.2">21時</text><text x="340.2" y="275.2">0時</text><polyline fill="none" stroke="#ff6600" stroke-width="2.5" stroke-linejoin="round" stroke-linecap="round" points="42,171 59.7,172.5 64.2,172.7 68.1,167.9 72,169.5 77.4,174.6 82.8,178.3 88.7,186.3 94.3,191.7 102.1,182.2 109.4,188.5 115.3,196.1 122.8,196.5 130.6,202.1 241.5,203.2 249.8,208.2 256.5,211 262.5,215.3 270.3,221.6 277.9,219 288,224 298,221 303.8,227.2 311.8,215.5 319.6,200.2"/><g fill="#ff6600"><circle cx="42" cy="171" r="2.5"/><circle cx="59.7" cy="172.5" r="2.5"/><circle cx="64.2" cy="172.7" r="2.5"/><circle cx="68.1" cy="167.9" r="2.5"/><circle cx="72" cy="169.5" r="2.5"/><circle cx="77.4" cy="174.6" r="2.5"/><circle cx="82.8" cy="178.3" r="2.5"/><circle cx="88.7" cy="186.3" r="2.5"/><circle cx="94.3" cy="191.7" r="2.5"/><circle cx="102.1" cy="182.2" r="2.5"/><circle cx="109.4" cy="188.5" r="2.5"/><circle cx="115.3" cy="196.1" r="2.5"/><circle cx="122.8" cy="196.5" r="2.5"/><circle cx="130.6" cy="202.1" r="2.5"/><circle cx="241.5" cy="203.2" r="2.5"/><circle cx="249.8" cy="208.2" r="2.5"/><circle cx="256.5" cy="211" r="2.5"/><circle cx="262.5" cy="215.3" r="2.5"/><circle cx="270.3" cy="221.6" r="2.5"/><circle cx="277.9" cy="219" r="2.5"/><circle cx="288" cy="224" r="2.5"/><circle cx="298" cy="221" r="2.5"/><circle cx="303.8" cy="227.2" r="2.5"/><circle cx="311.8" cy="215.5" r="2.5"/><circle cx="319.6" cy="200.2" r="2.5"/></g><rect x="36" y="170" width="312" height="2" fill="#33ff00" opacity="0.55"/></svg>
<a class="btn">613</a>
</div>
<div class="card last" style="left:5px;top:1420px">
<table class="st"><colgroup><col style="width:75px"><col style="width:75px"><col style="width:85px"><col style="width:118px"></colgroup>
<tr><th>BB回数</th><th>RB回数</th><th>ART回数</th><th>スタート回数</th></tr>
<tr><td class="bb">25</td><td class="rb">11</td><td class="art">0</td><td class="stt">155</td></tr></table>
<svg class="chart" width="358" height="341" viewBox="0 0 358 341"><rect x="349" y="91" width="1" height="162" fill="#d0d0d0"/><rect x="37" y="252" width="313" height="1" fill="#d0d0d0"/><rect x="350" y="92" width="1" height="162" fill="#dadada"/><rect x="38" y="253" width="313" height="1" fill="#dadada"/><rect x="351" y="93" width="1" height="162" fill="#e6e6e6"/><rect x="39" y="254" width="313" height="1" fill="#e6e6e6"/><rect x="352" y="94" width="1" height="162" fill="#f4f4f4"/><rect x="40" y="255" width="313" height="1" fill="#f4f4f4"/><rect x="37" y="92" width="310" height="158" fill="#000033"/><rect x="37" y="111" width="310" height="1" fill="#fff"/><rect x="37" y="131" width="310" height="1" fill="#fff"/><rect x="37" y="151" width="310" height="1" fill="#fff"/><rect x="37" y="171" width="310" height="1" fill="#fff"/><rect x="37" y="191" width="310" height="1" fill="#fff"/><rect x="37" y="211" width="310" height="1" fill="#fff"/><rect x="37" y="231" width="310" height="1" fill="#fff"/><rect x="98" y="92" width="1" height="158" fill="#fff"/><rect x="161" y="92" width="1" height="158" fill="#fff"/><rect x="223" y="92" width="1" height="158" fill="#fff"/><rect x="286" y="92" width="1" height="158" fill="#fff"/><rect x="31" y="92" width="4" height="1" fill="#dcdcdc"/><rect x="31" y="112" width="4" height="1" fill="#dcdcdc"/><rect x="31" y="132" width="4" height="1" fill="#dcdcdc"/><rect x="31" y="152" width="4" height="1" fill="#dcdcdc"/><rect x="31" y="172" width="4" height="1" fill="#dcdcdc"/><rect x="31" y="192" width="4" height="1" fill="#dcdcdc"/><rect x="31" y="212" width="4" height="1" fill="#dcdcdc"/><rect x="31" y="232" width="4" height="1" fill="#dcdcdc"/><rect x="31" y="252" width="4" height="1" fill="#dcdcdc"/><rect x="37" y="252" width="1" height="5" fill="#dcdcdc"/><rect x="99" y="252" width="1" height="5" fill="#dcdcdc"/><rect x="162" y="252" width="1" height="5" fill="#dcdcdc"/><rect x="224" y="252" width="1" height="5" fill="#dcdcdc"/><rect x="287" y="252" width="1" height="5" fill="#dcdcdc"/><rect x="349" y="252" width="1" height="5" fill="#dcdcdc"/><text x="26.5" y="95.1" text-anchor="end">6000</text><text x="26.5" y="115.1" text-anchor="end">4500</text><text x="26.5" y="135.1" text-anchor="end">3000</text><text x="26.5" y="155.1" text-anchor="end">1500</text><text x="26.5" y="175.1" text-anchor="end">0</text><text x="26.5" y="195.1" text-anchor="end">-1500</text><text x="26.5" y="215.1" text-anchor="end">-3000</text><text x="26.5" y="235.1" text-anchor="end">-4500</text><text x="26.5" y="255.1" text-anchor="end">-6000</text><text x="28.2" y="275.2">9時</text><text x="87.8" y="275.2">12時</text><text x="150.2" y="275.2">15時</text><text x="212.6" y="275.2">18時</text><text x="275" y="275.2">21時</text><text x="340.2" y="275.2">0時</text><polyline fill="none" stroke="#ff6600" stroke-width="2.5" stroke-linejoin="round" stroke-linecap="round" points="42,170.8 59.5,171.6 64.3,175.1 68.2,177.9 72.1,178.8 77.2,182.2 83.1,180.9 88.5,186.1 94.3,190.7 101.9,196.5 109.2,200.8 115.3,196.5 122.9,195.2 130.4,192.2 143.8,189.6 151.4,188.9 157.1,194.4 165.1,184.3 172.6,190.8 178.4,194.9 199.6,195.9 207.6,202.2 215.2,203.3 221.2,207.6 229,213 235.5,219.5 241.6,224.5 249.8,227.7"/><g fill="#ff6600"><circle cx="42" cy="170.8" r="2.5"/><circle cx="59.5" cy="171.6" r="2.5"/><circle cx="64.3" cy="175.1" r="2.5"/><circle cx="68.2" cy="177.9" r="2.5"/><circle cx="72.1" cy="178.8" r="2.5"/><circle cx="77.2" cy="182.2" r="2.5"/><circle cx="83.1" cy="180.9" r="2.5"/><circle cx="88.5" cy="186.1" r="2.5"/><circle cx="94.3" cy="190.7" r="2.5"/><circle cx="101.9" cy="196.5" r="2.5"/><circle cx="109.2" cy="200.8" r="2.5"/><circle cx="115.3" cy="196.5" r="2.5"/><circle cx="122.9" cy="195.2" r="2.5"/><circle cx="130.4" cy="192.2" r="2.5"/><circle cx="143.8" cy="189.6" r="2.5"/><circle cx="151.4" cy="188.9" r="2.5"/><circle cx="157.1" cy="194.4" r="2.5"/><circle cx="165.1" cy="184.3" r="2.5"/><circle cx="172.6" cy="190.8" r="2.5"/><circle cx="178.4" cy="194.9" r="2.5"/><circle cx="199.6" cy="195.9" r="2.5"/><circle cx="207.6" cy="202.2" r="2.5"/><circle cx="215.2" cy="203.3" r="2.5"/><circle cx="221.2" cy="207.6" r="2.5"/><circle cx="229" cy="213" r="2.5"/><circle cx="235.5" cy="219.5" r="2.5"/><circle cx="241.6" cy="224.5" r="2.5"/><circle cx="249.8" cy="227.7" r="2.5"/></g><rect x="36" y="170" width="312" height="2" fill="#33ff00" opacity="0.55"/></svg>
<a class="btn">615</a>
</div>
<div class="card last" style="left:375px;top:1420px">
<table class="st"><colgroup><col style="width:75px"><col style="width:75px"><col style="width:85px"><col style="width:118px"></colgroup>
<tr><th>BB回数</th><th>RB回数</th><th>ART回数</th><th>スタート回数</th></tr>
<tr><td class="bb">82</td><td class="rb">16</td><td class="art">0</td><td class="stt">1</td></tr></table>
<svg class="chart" width="358" height="341" viewBox="0 0 358 341"><rect x="349" y="91" width="1" height="162" fill="#d0d0d0"/><rect x="37" y="252" width="313" height="1" fill="#d0d0d0"/><rect x="350" y="92" width="1" height="162" fill="#dadada"/><rect x="38" y="253" width="313" height="1" fill="#dadada"/><rect x="351" y="93" width="1" height="162" fill="#e6e6e6"/><rect x="39" y="254" width="313" height="1" fill="#e6e6e6"/><rect x="352" y="94" width="1" height="162" fill="#f4f4f4"/><rect x="40" y="255" width="313" height="1" fill="#f4f4f4"/><rect x="37" y="92" width="310" height="158" fill="#000033"/><rect x="37" y="111" width="310" height="1" fill="#fff"/><rect x="37" y="131" width="310" height="1" fill="#fff"/><rect x="37" y="151" width="310" height="1" fill="#fff"/><rect x="37" y="171" width="310" height="1" fill="#fff"/><rect x="37" y="191" width="310" height="1" fill="#fff"/><rect x="37" y="211" width="310" height="1" fill="#fff"/><rect x="37" y="231" width="310" height="1" fill="#fff"/><rect x="98" y="92" width="1" height="158" fill="#fff"/><rect x="161" y="92" width="1" height="158" fill="#fff"/><rect x="223" y="92" width="1" height="158" fill="#fff"/><rect x="286" y="92" width="1" height="158" fill="#fff"/><rect x="31" y="92" width="4" height="1" fill="#dcdcdc"/><rect x="31" y="112" width="4" height="1" fill="#dcdcdc"/><rect x="31" y="132" width="4" height="1" fill="#dcdcdc"/><rect x="31" y="152" width="4" height="1" fill="#dcdcdc"/><rect x="31" y="172" width="4" height="1" fill="#dcdcdc"/><rect x="31" y="192" width="4" height="1" fill="#dcdcdc"/><rect x="31" y="212" width="4" height="1" fill="#dcdcdc"/><rect x="31" y="232" width="4" height="1" fill="#dcdcdc"/><rect x="31" y="252" width="4" height="1" fill="#dcdcdc"/><rect x="37" y="252" width="1" height="5" fill="#dcdcdc"/><rect x="99" y="252" width="1" height="5" fill="#dcdcdc"/><rect x="162" y="252" width="1" height="5" fill="#dcdcdc"/><rect x="224" y="252" width="1" height="5" fill="#dcdcdc"/><rect x="287" y="252" width="1" height="5" fill="#dcdcdc"/><rect x="349" y="252" width="1" height="5" fill="#dcdcdc"/><text x="26.5" y="95.1" text-anchor="end">5000</text><text x="26.5" y="115.1" text-anchor="end">3750</text><text x="26.5" y="135.1" text-anchor="end">2500</text><text x="26.5" y="155.1" text-anchor="end">1250</text><text x="26.5" y="175.1" text-anchor="end">0</text><text x="26.5" y="195.1" text-anchor="end">-1250</text><text x="26.5" y="215.1" text-anchor="end">-2500</text><text x="26.5" y="235.1" text-anchor="end">-3750</text><text x="26.5" y="255.1" text-anchor="end">-5000</text><text x="28.2" y="275.2">9時</text><text x="87.8" y="275.2">12時</text><text x="150.2" y="275.2">15時</text><text x="212.6" y="275.2">18時</text><text x="275" y="275.2">21時</text><text x="340.2" y="275.2">0時</text><polyline fill="none" stroke="#ff6600" stroke-width="2.5" stroke-linejoin="round" stroke-linecap="round" points="42,170.7 59.7,171.6 64.2,175.5 68.1,178.9 72,181.8 77.2,182.2 82.8,175.3 88.7,171.4 94.3,171.4 102.1,165.3 109.4,162.3 115.3,167.7 122.8,160.4 130.6,167.7 136.2,159.5 143.8,153.6 151.6,137.4 157.4,134.6 165,119.1 172.4,126 178.5,123.5 186.5,122.5 194.3,123.4 200.4,130.3 207.5,131.8 215.3,125.3 221.1,121.4 228.9,119.3 235.4,119.7 241.9,124 249.6,126.2 256.1,128.8 262.4,135.5 270.2,137.6 278.4,148.2 288.1,140.5 297.9,136.8 303.9,127.9 312.1,126.4"/><g fill="#ff6600"><circle cx="42" cy="170.7" r="2.5"/><circle cx="59.7" cy="171.6" r="2.5"/><circle cx="64.2" cy="175.5" r="2.5"/><circle cx="68.1" cy="178.9" r="2.5"/><circle cx="72" cy="181.8" r="2.5"/><circle cx="77.2" cy="182.2" r="2.5"/><circle cx="82.8" cy="175.3" r="2.5"/><circle cx="88.7" cy="171.4" r="2.5"/><circle cx="94.3" cy="171.4" r="2.5"/><circle cx="102.1" cy="165.3" r="2.5"/><circle cx="109.4" cy="162.3" r="2.5"/><circle cx="115.3" cy="167.7" r="2.5"/><circle cx="122.8" cy="160.4" r="2.5"/><circle cx="130.6" cy="167.7" r="2.5"/><circle cx="136.2" cy="159.5" r="2.5"/><circle cx="143.8" cy="153.6" r="2.5"/><circle cx="151.6" cy="137.4" r="2.5"/><circle cx="157.4" cy="134.6" r="2.5"/><circle cx="165" cy="119.1" r="2.5"/><circle cx="172.4" cy="126" r="2.5"/><circle cx="178.5" cy="123.5" r="2.5"/><circle cx="186.5" cy="122.5" r="2.5"/><circle cx="194.3" cy="123.4" r="2.5"/><circle cx="200.4" cy="130.3" r="2.5"/><circle cx="207.5" cy="131.8" r="2.5"/><circle cx="215.3" cy="125.3" r="2.5"/><circle cx="221.1" cy="121.4" r="2.5"/><circle cx="228.9" cy="119.3" r="2.5"/><circle cx="235.4" cy="119.7" r="2.5"/><circle cx="241.9" cy="124" r="2.5"/><circle cx="249.6" cy="126.2" r="2.5"/><circle cx="256.1" cy="128.8" r="2.5"/><circle cx="262.4" cy="135.5" r="2.5"/><circle cx="270.2" cy="137.6" r="2.5"/><circle cx="278.4" cy="148.2" r="2.5"/><circle cx="288.1" cy="140.5" r="2.5"/><circle cx="297.9" cy="136.8" r="2.5"/><circle cx="303.9" cy="127.9" r="2.5"/><circle cx="312.1" cy="126.4" r="2.5"/></g><rect x="36" y="170" width="312" height="2" fill="#33ff00" opacity="0.55"/></svg>
<a class="btn">616</a>
</div>
</body></html>
